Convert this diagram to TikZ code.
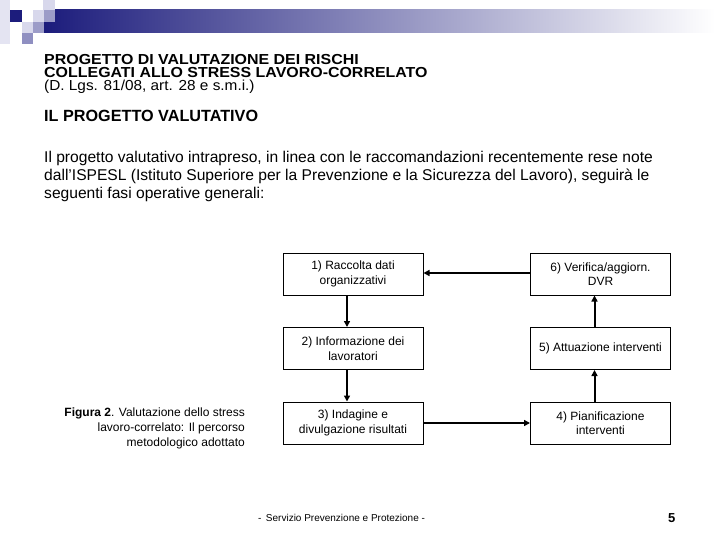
\documentclass[tikz,border=0pt]{standalone}
\usepackage{fontspec}
\setmainfont{Liberation Sans}
\newfontfamily\titlefont[FakeStretch=1.1]{Liberation Sans}
\newfontfamily\lawfont[FakeStretch=1.06]{Liberation Sans}
\usetikzlibrary{arrows.meta}
\definecolor{navy}{HTML}{1C1C7C}
\definecolor{lightsq}{HTML}{D8D8EC}
\definecolor{midsq}{HTML}{9C9CC8}
\definecolor{barmid}{HTML}{8A8AAE}
\begin{document}
\begin{tikzpicture}[x=1pt,y=-1pt,
  txt/.style={inner sep=0, anchor=base west},
  stepbox/.style={draw, line width=1pt, minimum width=140pt, minimum height=42pt, align=center,
    font=\fontsize{12}{14.5}\selectfont, inner sep=0},
  flow/.style={-{Triangle[length=6pt,width=6pt]}, line width=2pt},
  captxt/.style={inner sep=0, anchor=base east, font=\fontsize{12}{14}\selectfont}]
\useasboundingbox (0,0) rectangle (720,540);
% header decoration
\fill[lightsq!70] (0,0) rectangle (10,44);
\shade[left color=navy, middle color=barmid, right color=white] (44,10) rectangle (715,33);
\fill[lightsq] (43,0) rectangle (55,10);
\fill[navy] (10,10) rectangle (22,22);
\fill[lightsq] (33,10) rectangle (44,22);
\fill[midsq] (44,10) rectangle (55,22);
\fill[lightsq] (22,22) rectangle (33,33);
\fill[midsq] (33,22) rectangle (44,33);
\fill[midsq!90!navy] (22,33) rectangle (33,44);
% titles
\node[txt, font=\titlefont\bfseries\fontsize{14.5}{14}\selectfont] (t1) at (44,64.5) {PROGETTO DI VALUTAZIONE DEI RISCHI};
\node[txt, font=\titlefont\bfseries\fontsize{14.5}{14}\selectfont] (t2) at (44,78) {COLLEGATI ALLO STRESS LAVORO-CORRELATO};
\node[txt, font=\lawfont\fontsize{14.5}{14}\selectfont] (t3) at (44,91) {(D. Lgs. 81/08, art. 28 e s.m.i.)};
\node[txt, font=\bfseries\fontsize{16.2}{16}\selectfont] (t4) at (44,122) {IL PROGETTO VALUTATIVO};
\node[txt, font=\fontsize{15.6}{16}\selectfont] (p1) at (44,163) {Il progetto valutativo intrapreso, in linea con le raccomandazioni recentemente rese note};
\node[txt, font=\fontsize{15.6}{16}\selectfont] (p2) at (44,181) {dall'ISPESL (Istituto Superiore per la Prevenzione e la Sicurezza del Lavoro), seguirà le};
\node[txt, font=\fontsize{15.6}{16}\selectfont] (p3) at (44,199) {seguenti fasi operative generali:};
% flow boxes
\node[stepbox] (b1) at (353,274) {1) Raccolta dati\\organizzativi};
\node[stepbox] (b6) at (600.5,274) {6) Verifica/aggiorn.\\DVR};
\node[stepbox] (b2) at (353,348.5) {2) Informazione dei\\lavoratori};
\node[stepbox] (b5) at (600.5,348.5) {5) Attuazione interventi};
\node[stepbox] (b3) at (353,423) {3) Indagine e\\divulgazione risultati};
\node[stepbox] (b4) at (600.5,423) {4) Pianificazione\\interventi};
\draw[flow] ([xshift=-6pt]b1.south) -- ([xshift=-6pt]b2.north);
\draw[flow] ([xshift=-6pt]b2.south) -- ([xshift=-6pt]b3.north);
\draw[flow] (b3.east) -- (b4.west);
\draw[flow] ([xshift=-6pt]b4.north) -- ([xshift=-6pt]b5.south);
\draw[flow] ([xshift=-6pt]b5.north) -- ([xshift=-6pt]b6.south);
\draw[flow] ([yshift=1pt]b6.west) -- ([yshift=1pt]b1.east);
% caption
\node[captxt] (c1) at (245,416) {\textbf{Figura 2}. Valutazione dello stress};
\node[captxt] (c2) at (245,431) {lavoro-correlato: Il percorso};
\node[captxt] (c3) at (245,446) {metodologico adottato};
% footer
\node[txt, font=\fontsize{10}{10}\selectfont] (f1) at (258,521) {-\, Servizio Prevenzione e Protezione -};
\node[txt, font=\bfseries\fontsize{13}{13}\selectfont] (f2) at (668,522) {5};
\end{tikzpicture}
\end{document}
